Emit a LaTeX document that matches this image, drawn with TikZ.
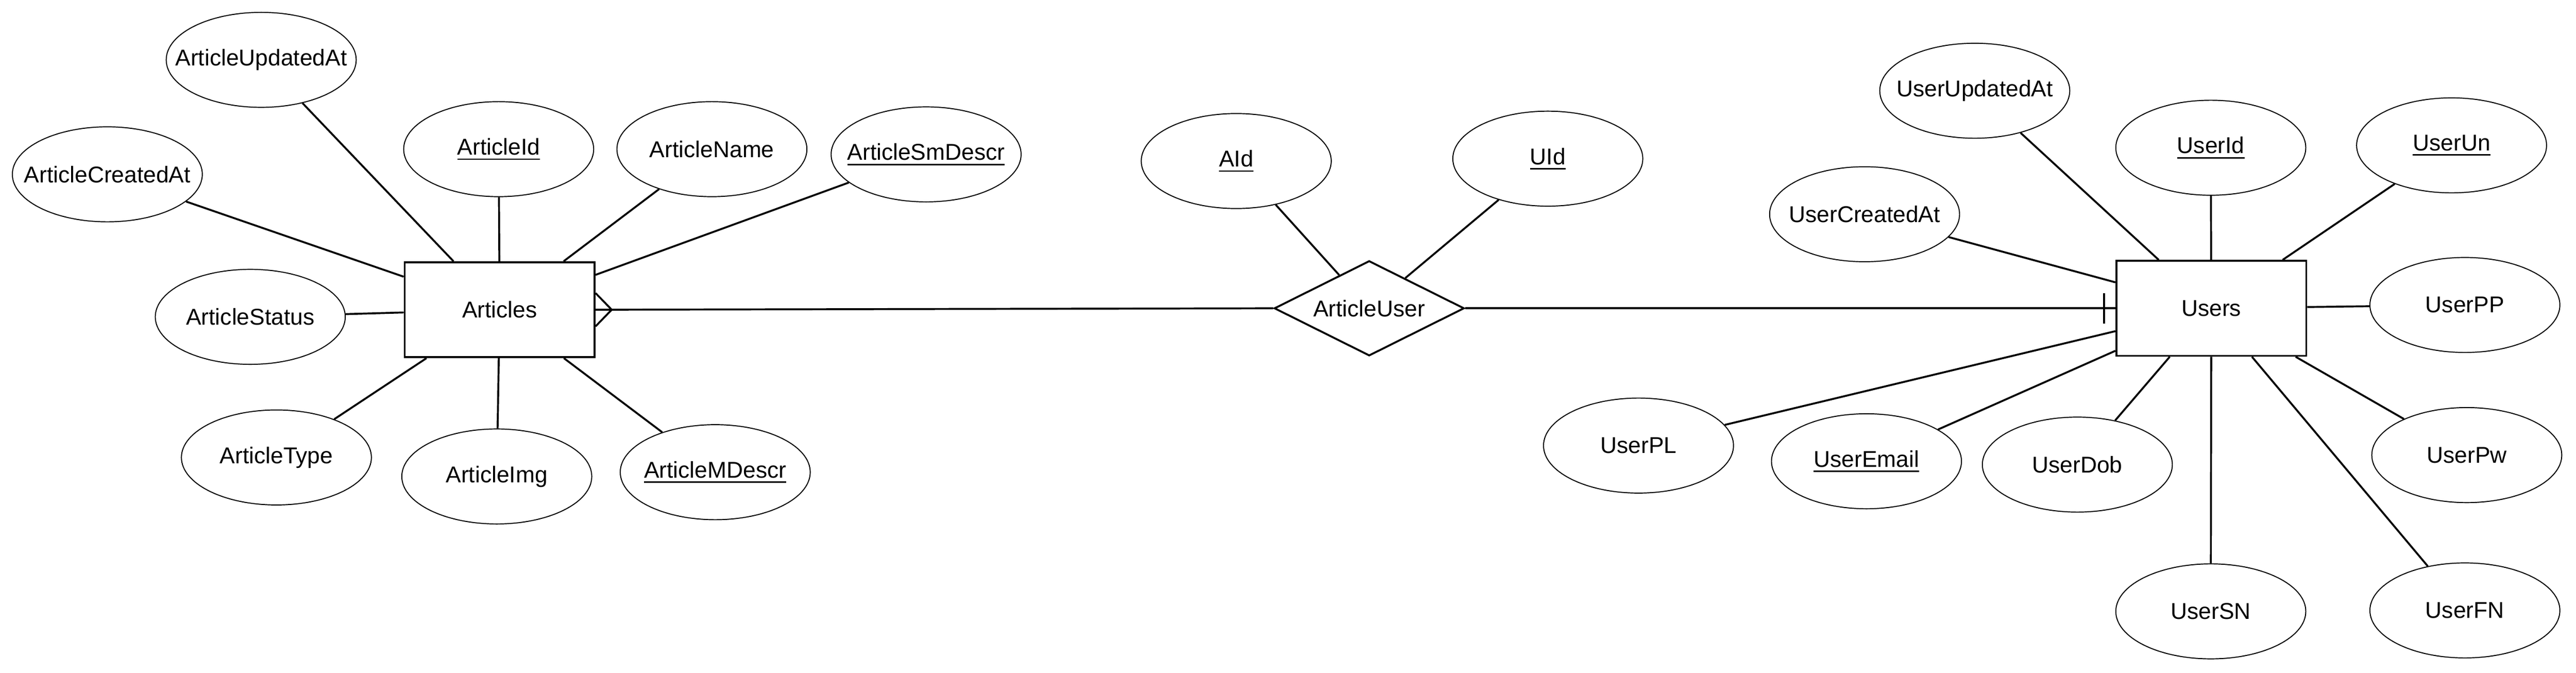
\documentclass[tikz,border=0pt]{standalone}
\usepackage{fontspec}
\setmainfont{Liberation Sans}
\usetikzlibrary{shapes.geometric,calc}
\newcommand{\attrtext}[1]{\makebox[0pt]{#1}}
\newcommand{\keytext}[1]{\makebox[0pt]{\vtop{\hbox{#1}\kern2pt\hrule height 0.85pt}}}

\begin{document}
\begin{tikzpicture}[
    every node/.style={font=\fontsize{13.7}{16}\selectfont},
    ent/.style={draw, line width=1.14pt, minimum width=4cm, minimum height=2cm, inner sep=0pt},
    attr/.style={ellipse, draw, line width=0.6pt, minimum width=4cm, minimum height=2cm, inner sep=0pt},
    rel/.style={diamond, draw, line width=1.14pt, aspect=2, minimum width=4cm, minimum height=2cm, inner sep=0pt},
    link/.style={line width=1.14pt}
  ]
  \useasboundingbox (0,0) rectangle (54.24,14.16);

  % Articles
  \node[ent] (art) at (10.52,7.64) {Articles};
  \node[attr] (aupd) at (5.50,12.90) {\attrtext{ArticleUpdatedAt}};
  \node[attr] (acre) at (2.26,10.49) {\attrtext{ArticleCreatedAt}};
  \node[attr] (aid) at (10.50,11.02) {\keytext{ArticleId}};
  \node[attr] (aname) at (14.99,11.02) {\attrtext{ArticleName}};
  \node[attr] (asm) at (19.50,10.91) {\keytext{ArticleSmDescr}};
  \node[attr] (astat) at (5.27,7.49) {\attrtext{ArticleStatus}};
  \node[attr] (atype) at (5.82,4.53) {\attrtext{ArticleType}};
  \node[attr] (aimg) at (10.46,4.13) {\attrtext{ArticleImg}};
  \node[attr] (amd) at (15.06,4.22) {\keytext{ArticleMDescr}};
  \draw[link] (aupd) -- (art) (acre) -- (art) (aid) -- (art) (aname) -- (art) (asm) -- (art)
    (astat) -- (art) (atype) -- (art) (aimg) -- (art) (amd) -- (art);

  % ArticleUser
  \node[rel] (au) at (28.83,7.67) {ArticleUser};
  \node[attr] (auaid) at (26.03,10.77) {\keytext{AId}};
  \node[attr] (auuid) at (32.59,10.82) {\keytext{UId}};
  \draw[link] (auaid) -- (au) (auuid) -- (au);

  % Users
  \node[ent] (usr) at (46.56,7.67) {Users};
  \node[attr] (uupd) at (41.58,12.25) {\attrtext{UserUpdatedAt}};
  \node[attr] (ucre) at (39.26,9.65) {\attrtext{UserCreatedAt}};
  \node[attr] (uid) at (46.55,11.05) {\keytext{UserId}};
  \node[attr] (uun) at (51.62,11.10) {\keytext{UserUn}};
  \node[attr] (upp) at (51.90,7.74) {\attrtext{UserPP}};
  \node[attr] (upw) at (51.94,4.58) {\attrtext{UserPw}};
  \node[attr] (ufn) at (51.90,1.31) {\attrtext{UserFN}};
  \node[attr] (usn) at (46.55,1.29) {\attrtext{UserSN}};
  \node[attr] (udob) at (43.74,4.38) {\attrtext{UserDob}};
  \node[attr] (uemail) at (39.30,4.45) {\keytext{UserEmail}};
  \node[attr] (upl) at (34.50,4.78) {\attrtext{UserPL}};
  \draw[link] (uupd) -- (usr) (ucre) -- (usr) (uid) -- (usr) (uun) -- (usr) (upp) -- (usr)
    (upw) -- (usr) (ufn) -- (usr) (usn) -- (usr) (udob) -- (usr) (uemail) -- (usr) (upl) -- (usr);

  % relationship lines: many on Articles, one on Users
  \draw[link] (art.east) -- (au.west);
  \draw[link] ($(art.east)+(0,0.35)$) -- ($(art.east)+(0.34,0)$) -- ($(art.east)+(0,-0.35)$);
  \draw[link] (au.east) -- (usr.west);
  \draw[link] ($(usr.west)+(-0.24,0.32)$) -- ($(usr.west)+(-0.24,-0.32)$);
\end{tikzpicture}
\end{document}
